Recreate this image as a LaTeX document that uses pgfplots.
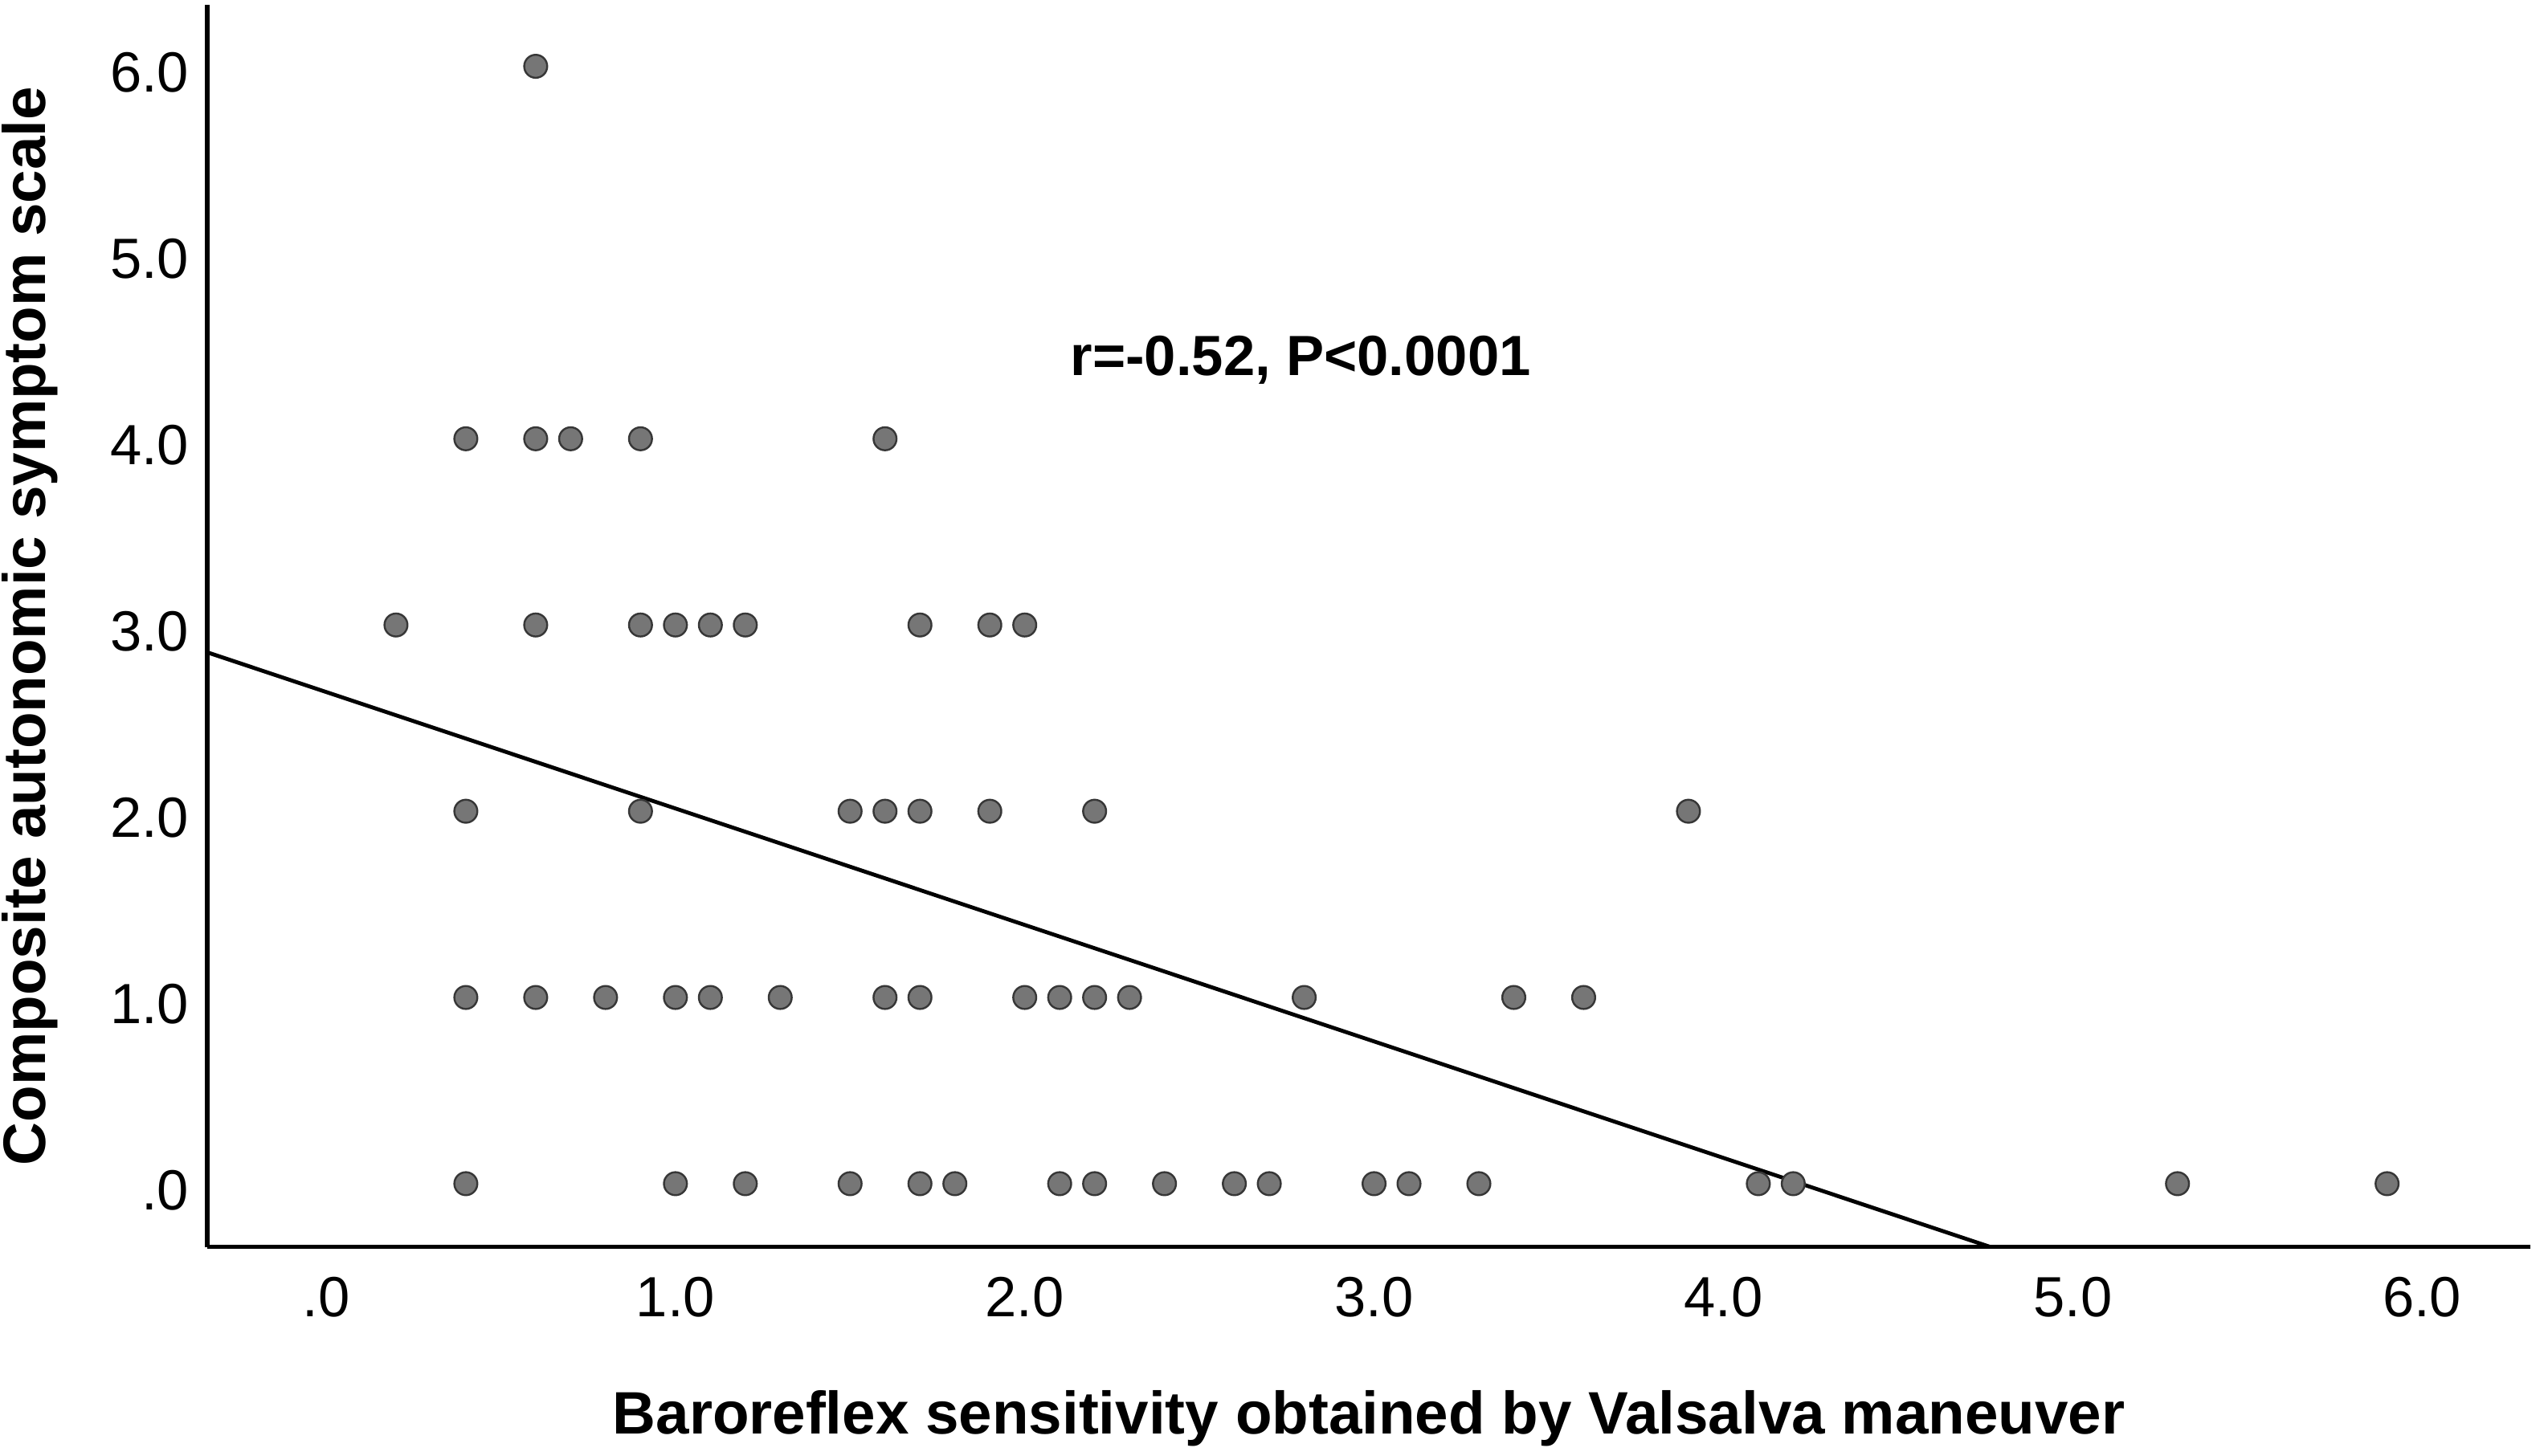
\documentclass[border=0pt]{standalone}
\usepackage{fontspec}
\setmainfont{Liberation Sans}
\usepackage{pgfplots}
\pgfplotsset{compat=1.18}
\usepackage{pgfplotstable}
\definecolor{markfill}{RGB}{118,118,118}
\definecolor{markdraw}{RGB}{55,55,55}
\pgfplotstableread{
x y
0.6 6
0.4 4
0.6 4
0.7 4
0.9 4
1.6 4
0.2 3
0.6 3
0.9 3
1.0 3
1.1 3
1.2 3
1.7 3
1.9 3
2.0 3
0.4 2
0.9 2
1.5 2
1.6 2
1.7 2
1.9 2
2.2 2
3.9 2
0.4 1
0.6 1
0.8 1
1.0 1
1.1 1
1.3 1
1.6 1
1.7 1
2.0 1
2.1 1
2.2 1
2.3 1
2.8 1
3.4 1
3.6 1
0.4 0
1.0 0
1.2 0
1.5 0
1.7 0
1.8 0
2.1 0
2.2 0
2.4 0
2.6 0
2.7 0
3.0 0
3.1 0
3.3 0
4.1 0
4.2 0
5.3 0
5.9 0
}\pts
\begin{document}
\begin{tikzpicture}
\begin{axis}[
  name=ax,
  scale only axis,
  width=717bp, height=383.5bp,
  xmin=-0.34, xmax=6.31,
  ymin=-0.34, ymax=6.33,
  axis lines*=left,
  axis line style={-, line width=1.3bp, black},
  major tick length=0pt,
  xtick={0,1,2,3,4,5,6},
  xticklabels={.0,1.0,2.0,3.0,4.0,5.0,6.0},
  ytick={0,1,2,3,4,5,6},
  yticklabels={.0,1.0,2.0,3.0,4.0,5.0,6.0},
  ticklabel style={font=\fontsize{17.5bp}{20bp}\selectfont, inner sep=0pt},
  xticklabel style={anchor=north, yshift=-9bp},
  yticklabel style={anchor=east, xshift=-5.5bp, yshift=-2bp},
  xlabel={Baroreflex sensitivity obtained by Valsalva maneuver},
  ylabel={Composite autonomic symptom scale},
  label style={font=\bfseries\fontsize{18.5bp}{22bp}\selectfont, inner sep=0pt},
  xlabel style={at={(axis description cs:0.5,-0.1147)}, anchor=north},
  ylabel style={at={(axis description cs:-0.0886,0.5)}, anchor=north},
]
\addplot[only marks, mark=*, mark size=3.55bp,
  mark options={fill=markfill, draw=markdraw, line width=0.6bp}]
  table[x=x, y=y] {\pts};
\addplot[black, line width=1.2bp] coordinates {(-0.34,2.853) (4.765,-0.34)};
\node[anchor=base, font=\bfseries\fontsize{17.5bp}{21bp}\selectfont, inner sep=0pt]
  at (axis cs:2.79,4.34) {r=-0.52, P<0.0001};
\end{axis}
\pgfresetboundingbox
\path ([xshift=-64bp,yshift=-64.5bp]ax.south west) rectangle ([xshift=3bp,yshift=1.5bp]ax.north east);
\end{tikzpicture}
\end{document}
